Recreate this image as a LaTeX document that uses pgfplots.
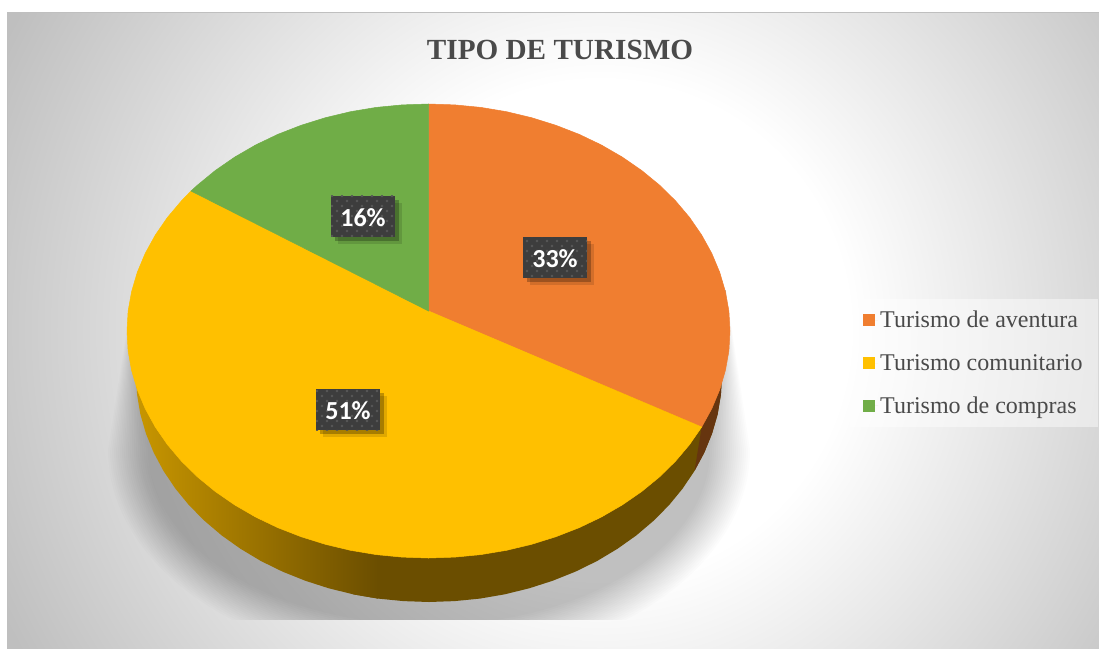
\documentclass[border=0pt]{standalone}
\usepackage{fontspec}
\setmainfont{Liberation Serif}
\newfontfamily\cali{Carlito}
\usepackage{pgfplots}
\pgfplotsset{compat=1.18}
\usetikzlibrary{shadows,patterns}
\definecolor{c1}{HTML}{F07E30}
\definecolor{c2}{HTML}{FFC000}
\definecolor{c3}{HTML}{70AD47}
\definecolor{wall1}{HTML}{66350F}
\definecolor{wall2}{HTML}{6B4E00}
\definecolor{wall2l}{HTML}{C89600}
\definecolor{labbox}{HTML}{3D3D3D}
\definecolor{txt}{HTML}{4A4A4A}
\pgfdeclareradialshading{bgglow}{\pgfpoint{0bp}{0bp}}{rgb(0bp)=(1,1,1); rgb(8.9bp)=(1,1,1); rgb(23.6bp)=(.75,.75,.75); rgb(50bp)=(.75,.75,.75)}
\pgfdeclarepatternformonly{sdots}{\pgfqpoint{-1pt}{-1pt}}{\pgfqpoint{9pt}{9pt}}{\pgfqpoint{10pt}{10pt}}{%
  \pgfpathcircle{\pgfqpoint{2pt}{2pt}}{1.4pt}\pgfpathcircle{\pgfqpoint{7pt}{7pt}}{1.4pt}\pgfusepath{fill}}
\begin{document}
\begin{tikzpicture}
\begin{axis}[
    x=1pt, y=1pt, y dir=reverse,
    xmin=0, xmax=1099, ymin=0, ymax=648,
    hide axis,
    legend cell align=left,
    legend image code/.code={\fill[#1,draw=none,fill opacity=1] (0pt,-6pt) rectangle (12pt,6pt); \path[draw=none] (0pt,0pt) -- (15pt,0pt);},
    legend style={at={(850/1099,1-299/648)}, anchor=north west, draw=none,
        fill=white, fill opacity=0.45, text opacity=1, text=txt,
        font=\fontsize{24}{24}\selectfont, row sep=21pt,
        inner xsep=13pt, inner ysep=10pt},
]
% background
\path (axis cs:0,0) rectangle (axis cs:1099,648);
\begin{scope}
  \clip (axis cs:7,12) rectangle (axis cs:1099,648);
  \fill[shading=bgglow] (axis cs:600,330) circle[radius=700pt];
  \draw[color=gray!50,line width=2pt] (axis cs:7,648) -- (axis cs:7,12) -- (axis cs:1099,12);
\end{scope}
% soft shadow below the pie
\begin{scope}
  \clip (axis cs:7,12) rectangle (axis cs:1099,619);
  \pgfplotsinvokeforeach{0,2,...,40}{
    \fill[black,opacity=0.012] (axis cs:133,290) -- (axis cs:726,290) -- (axis cs:{750-#1},450)
      arc[start angle=0,end angle=-180,x radius=321pt-#1pt,y radius=215pt-#1pt] -- cycle;
  }
\end{scope}
% side wall
\addplot[forget plot,draw=none,fill=wall2] coordinates {
(722,375)(720.9,394.8)(717.6,414.4)(712,433.7)(704.3,452.6)(694.5,470.9)(682.7,488.5)(669,505.2)
(653.4,520.9)(636.2,535.5)(617.3,548.9)(597.1,561)(575.5,571.6)(552.8,580.7)(529.2,588.3)(504.8,594.3)
(479.9,598.6)(454.5,601.1)(429,602)(403.5,601.1)(378.1,598.6)(353.2,594.3)(350,375)} -- cycle;
\addplot[forget plot,draw=none,left color=wall2l,right color=wall2] coordinates {
(378.1,598.6)(353.2,594.3)(328.8,588.3)(305.2,580.7)(282.5,571.6)(260.9,561)(240.7,548.9)(221.8,535.5)
(204.6,520.9)(189,505.2)(175.3,488.5)(163.5,470.9)(153.7,452.6)(146,433.7)(140.4,414.4)(137.1,394.8)
(136,375)(378.1,375)} -- cycle;
\addplot[forget plot,draw=none,fill=wall1] coordinates {
(722,375)(720.9,394.8)(717.6,414.4)(712,433.7)(704.3,452.6)(694.5,470.9)(701.7,427)(700,375)} -- cycle;
% top face
\addplot[draw=c1,line width=0.5pt,fill=c1] coordinates {
(428.5,311)(428.5,104)(454.8,104.9)(480.8,107.4)(506.5,111.7)(531.6,117.7)(555.9,125.3)(579.3,134.4)
(601.4,145)(622.3,157.1)(641.7,170.5)(659.5,185.1)(675.5,200.8)(689.6,217.5)(701.7,235.1)(711.8,253.4)
(719.7,272.3)(725.4,291.6)(728.9,311.2)(730,331)(728.9,350.8)(725.4,370.4)(719.7,389.7)(711.8,408.6)
(701.7,427)} -- cycle;
\addlegendentry{Turismo de aventura}
\addplot[draw=c2,line width=0.5pt,fill=c2] coordinates {
(428.5,311)(701.7,427)(689.6,444.5)(675.5,461.2)(659.5,476.9)(641.7,491.5)(622.3,504.9)(601.4,517)
(579.3,527.6)(555.9,536.7)(531.6,544.3)(506.5,550.3)(480.8,554.6)(454.8,557.1)(428.5,558)(402.2,557.1)
(376.2,554.6)(350.5,550.3)(325.4,544.3)(301.1,536.7)(277.7,527.6)(255.6,517)(234.7,504.9)(215.3,491.5)
(197.5,476.9)(181.5,461.2)(167.4,444.5)(155.3,427)(145.2,408.6)(137.3,389.7)(131.6,370.4)(128.1,350.8)
(127,331)(128.1,311.2)(131.6,291.6)(137.3,272.3)(145.2,253.4)(155.3,235.1)(167.4,217.5)(181.5,200.8)
(191,191)} -- cycle;
\addlegendentry{Turismo comunitario}
\addplot[draw=c3,line width=0.5pt,fill=c3] coordinates {
(428.5,311)(191,191)(197.5,185.1)(215.3,170.5)(234.7,157.1)(255.6,145)(277.7,134.4)(301.1,125.3)
(325.4,117.7)(350.5,111.7)(376.2,107.4)(402.2,104.9)(428.5,104)} -- cycle;
\addlegendentry{Turismo de compras}
% value labels
\addplot[forget plot,draw=none,mark=none,point meta=explicit symbolic,nodes near coords,
  nodes near coords style={anchor=center,text=white,inner sep=0pt,
    minimum width=64pt,minimum height=41pt,text height=20pt,text depth=0pt,
    font=\cali\bfseries\fontsize{26}{26}\selectfont,
    drop shadow={shadow xshift=7pt,shadow yshift=-7pt,opacity=0.12,fill=black},
    drop shadow={shadow xshift=4pt,shadow yshift=-4pt,opacity=0.25,fill=black},
    preaction={fill=labbox},pattern=sdots,pattern color=white!14!labbox}]
  coordinates {(555,257.5)[33\%] (348,409.5)[51\%] (363,216)[16\%]};
\node[font=\bfseries\fontsize{29.2}{30}\selectfont,text=txt] at (axis cs:560,50) {TIPO DE TURISMO};
\end{axis}
\end{tikzpicture}
\end{document}
